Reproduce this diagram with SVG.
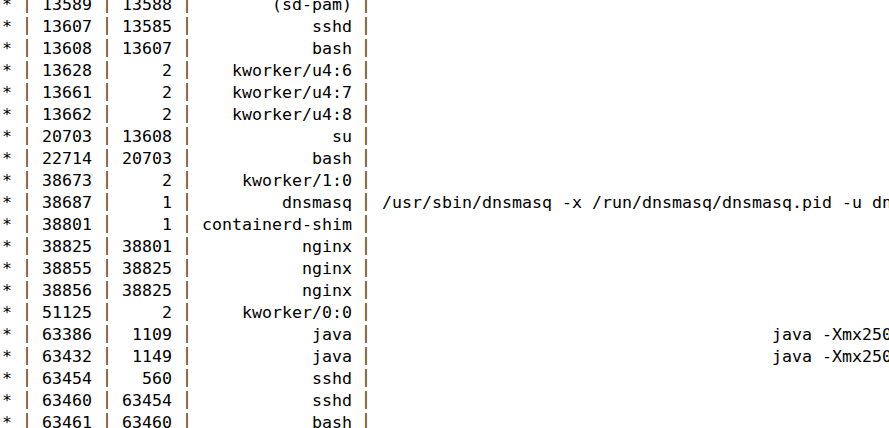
<svg xmlns="http://www.w3.org/2000/svg" width="889" height="428" viewBox="0 0 889 428">
<style>
text{font-family:"DejaVu Sans Mono","Liberation Mono",monospace;font-size:16.61px;fill:#000;white-space:pre}
.s{text-anchor:middle}
.r{text-anchor:end}
.p{text-anchor:middle;font-size:18.3px;fill:#70460f}
</style>
<rect width="889" height="428" fill="#fff"/>
<defs>
<g id="bars">
<text class="p" x="27" y="-1.3">|</text>
<text class="p" x="107" y="-1.3">|</text>
<text class="p" x="187" y="-1.3">|</text>
<text class="p" x="366" y="-1.3">|</text>
</g>
</defs>
<g id="table">
<g id="row-13589" transform="translate(0,10)"><use href="#bars"/><text class="s" x="7" y="0">*</text><text class="r" x="92" y="0">13589</text><text class="r" x="172" y="0">13588</text><text class="r" x="352" y="0">(sd-pam)</text></g>
<g id="row-13607" transform="translate(0,32)"><use href="#bars"/><text class="s" x="7" y="0">*</text><text class="r" x="92" y="0">13607</text><text class="r" x="172" y="0">13585</text><text class="r" x="352" y="0">sshd</text></g>
<g id="row-13608" transform="translate(0,54)"><use href="#bars"/><text class="s" x="7" y="0">*</text><text class="r" x="92" y="0">13608</text><text class="r" x="172" y="0">13607</text><text class="r" x="352" y="0">bash</text></g>
<g id="row-13628" transform="translate(0,76)"><use href="#bars"/><text class="s" x="7" y="0">*</text><text class="r" x="92" y="0">13628</text><text class="r" x="172" y="0">2</text><text class="r" x="352" y="0">kworker/u4:6</text></g>
<g id="row-13661" transform="translate(0,98)"><use href="#bars"/><text class="s" x="7" y="0">*</text><text class="r" x="92" y="0">13661</text><text class="r" x="172" y="0">2</text><text class="r" x="352" y="0">kworker/u4:7</text></g>
<g id="row-13662" transform="translate(0,120)"><use href="#bars"/><text class="s" x="7" y="0">*</text><text class="r" x="92" y="0">13662</text><text class="r" x="172" y="0">2</text><text class="r" x="352" y="0">kworker/u4:8</text></g>
<g id="row-20703" transform="translate(0,142)"><use href="#bars"/><text class="s" x="7" y="0">*</text><text class="r" x="92" y="0">20703</text><text class="r" x="172" y="0">13608</text><text class="r" x="352" y="0">su</text></g>
<g id="row-22714" transform="translate(0,164)"><use href="#bars"/><text class="s" x="7" y="0">*</text><text class="r" x="92" y="0">22714</text><text class="r" x="172" y="0">20703</text><text class="r" x="352" y="0">bash</text></g>
<g id="row-38673" transform="translate(0,186)"><use href="#bars"/><text class="s" x="7" y="0">*</text><text class="r" x="92" y="0">38673</text><text class="r" x="172" y="0">2</text><text class="r" x="352" y="0">kworker/1:0</text></g>
<g id="row-38687" transform="translate(0,208)"><use href="#bars"/><text class="s" x="7" y="0">*</text><text class="r" x="92" y="0">38687</text><text class="r" x="172" y="0">1</text><text class="r" x="352" y="0">dnsmasq</text><text x="382" y="0">/usr/sbin/dnsmasq -x /run/dnsmasq/dnsmasq.pid -u dn</text></g>
<g id="row-38801" transform="translate(0,230)"><use href="#bars"/><text class="s" x="7" y="0">*</text><text class="r" x="92" y="0">38801</text><text class="r" x="172" y="0">1</text><text class="r" x="352" y="0">containerd-shim</text></g>
<g id="row-38825" transform="translate(0,252)"><use href="#bars"/><text class="s" x="7" y="0">*</text><text class="r" x="92" y="0">38825</text><text class="r" x="172" y="0">38801</text><text class="r" x="352" y="0">nginx</text></g>
<g id="row-38855" transform="translate(0,274)"><use href="#bars"/><text class="s" x="7" y="0">*</text><text class="r" x="92" y="0">38855</text><text class="r" x="172" y="0">38825</text><text class="r" x="352" y="0">nginx</text></g>
<g id="row-38856" transform="translate(0,296)"><use href="#bars"/><text class="s" x="7" y="0">*</text><text class="r" x="92" y="0">38856</text><text class="r" x="172" y="0">38825</text><text class="r" x="352" y="0">nginx</text></g>
<g id="row-51125" transform="translate(0,318)"><use href="#bars"/><text class="s" x="7" y="0">*</text><text class="r" x="92" y="0">51125</text><text class="r" x="172" y="0">2</text><text class="r" x="352" y="0">kworker/0:0</text></g>
<g id="row-63386" transform="translate(0,340)"><use href="#bars"/><text class="s" x="7" y="0">*</text><text class="r" x="92" y="0">63386</text><text class="r" x="172" y="0">1109</text><text class="r" x="352" y="0">java</text><text x="772" y="0">java -Xmx250</text></g>
<g id="row-63432" transform="translate(0,362)"><use href="#bars"/><text class="s" x="7" y="0">*</text><text class="r" x="92" y="0">63432</text><text class="r" x="172" y="0">1149</text><text class="r" x="352" y="0">java</text><text x="772" y="0">java -Xmx250</text></g>
<g id="row-63454" transform="translate(0,384)"><use href="#bars"/><text class="s" x="7" y="0">*</text><text class="r" x="92" y="0">63454</text><text class="r" x="172" y="0">560</text><text class="r" x="352" y="0">sshd</text></g>
<g id="row-63460" transform="translate(0,406)"><use href="#bars"/><text class="s" x="7" y="0">*</text><text class="r" x="92" y="0">63460</text><text class="r" x="172" y="0">63454</text><text class="r" x="352" y="0">sshd</text></g>
<g id="row-63461" transform="translate(0,428)"><use href="#bars"/><text class="s" x="7" y="0">*</text><text class="r" x="92" y="0">63461</text><text class="r" x="172" y="0">63460</text><text class="r" x="352" y="0">bash</text></g>
</g>
</svg>
